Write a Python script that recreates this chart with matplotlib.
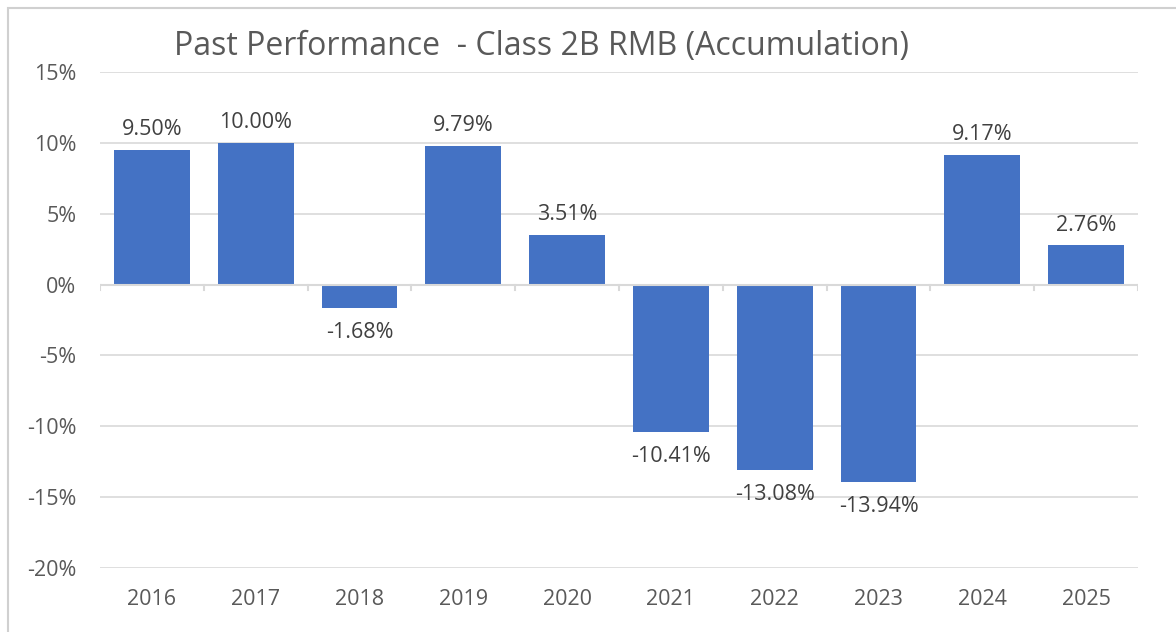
import matplotlib.pyplot as plt
from matplotlib.patches import Rectangle
from matplotlib.ticker import FuncFormatter

years = ["2016", "2017", "2018", "2019", "2020", "2021", "2022", "2023", "2024", "2025"]
returns = [9.50, 10.00, -1.68, 9.79, 3.51, -10.41, -13.08, -13.94, 9.17, 2.76]
y_ticks = [15, 10, 5, 0, -5, -10, -15, -20]

BLUE = "#4472C4"
GREY_TXT = "#595959"
GRID = "#D9D9D9"

plt.rcParams["font.family"] = ["Open Sans", "DejaVu Sans"]

W, H = 1176, 632
fig = plt.figure(figsize=(W / 100, H / 100), dpi=100)

# outer chart border (right/bottom run off the image)
fig.patches.append(Rectangle((8 / W, -0.05), 1.2, 1 - 8 / H + 0.05,
                             transform=fig.transFigure, fill=False,
                             edgecolor="#D0D0D0", linewidth=1.5))

ax = fig.add_axes([100 / W, 1 - 568 / H, (1138 - 100) / W, (568 - 72) / H])
x = list(range(len(years)))
ax.bar(x, returns, width=0.73, color=BLUE, zorder=3)

ax.set_xlim(-0.5, len(years) - 0.5)
ax.set_ylim(-20, 15)
ax.set_yticks(y_ticks)
ax.yaxis.set_major_formatter(FuncFormatter(lambda v, p: f"{v:.0f}%"))
ax.grid(axis="y", color=GRID, linewidth=1.2, zorder=0)
ax.tick_params(axis="y", length=0, pad=17, labelsize=15.5, labelcolor=GREY_TXT)

for s in ax.spines.values():
    s.set_visible(False)

# category axis sits at zero, labels at bottom
ax.axhline(0, color=GRID, linewidth=1.5, zorder=4)
ax.set_xticks(x)
ax.set_xticklabels(years)
ax.tick_params(axis="x", length=0, pad=15, labelsize=15.5, labelcolor=GREY_TXT)
for b in range(len(years) + 1):
    ax.plot([b - 0.5, b - 0.5], [0, -0.4], color=GRID, linewidth=1.5, zorder=4)

for xi, v in zip(x, returns):
    if v >= 0:
        ax.annotate(f"{v:.2f}%", (xi, v), xytext=(0, 7), textcoords="offset points",
                    ha="center", va="bottom", fontsize=15.5, color="#404040")
    else:
        ax.annotate(f"{v:.2f}%", (xi, v), xytext=(0, -10), textcoords="offset points",
                    ha="center", va="top", fontsize=15.5, color="#404040")

fig.text(541 / W, 1 - 47 / H, "Past Performance  - Class 2B RMB (Accumulation)",
         ha="center", va="center", fontsize=23, color=GREY_TXT)

fig.savefig("out.png", dpi=100)
